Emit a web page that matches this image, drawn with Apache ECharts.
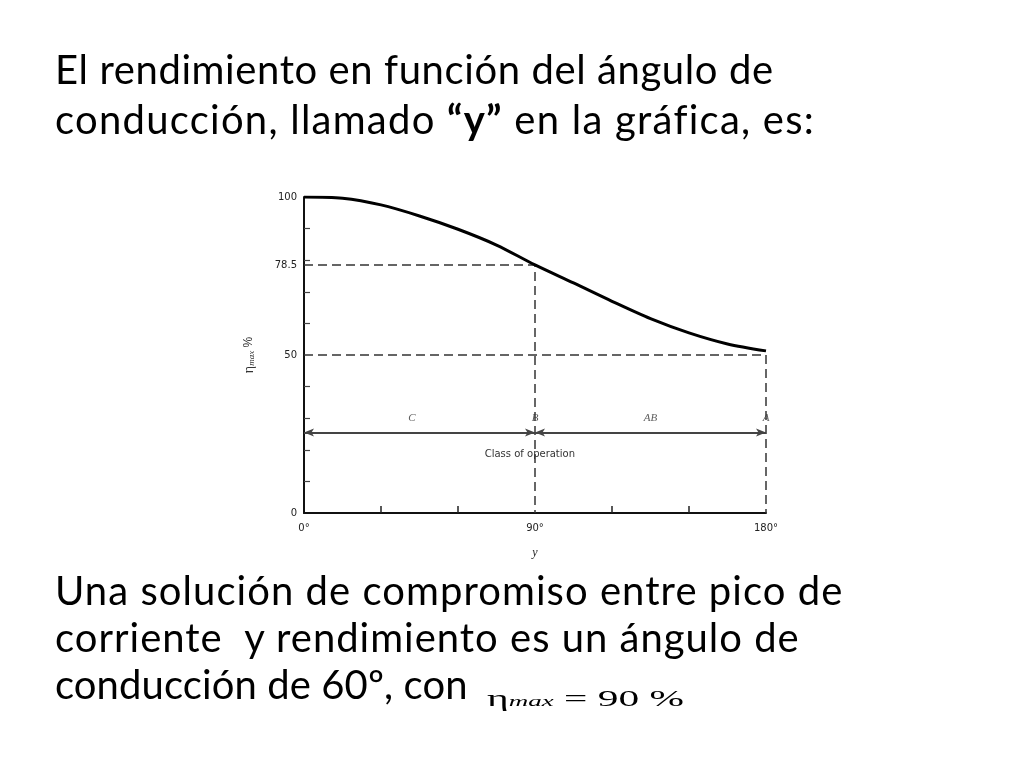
<!doctype html>
<html lang="es">

<head>
    <meta charset="UTF-8" />
    <title>Rendimiento vs ángulo de conducción</title>
    <style>
        html, body { margin: 0; padding: 0; background: #fff; }
        .page { position: relative; width: 1024px; height: 768px; overflow: hidden; }
        #chart { position: absolute; left: 0; top: 0; width: 1024px; height: 768px; }
        .txt {
            position: absolute; left: 55px; color: #000;
            font-family: Lato, "Open Sans", sans-serif; font-size: 40px; letter-spacing: 0.7px;
            white-space: pre; z-index: 2;
        }
        #top { top: 44px; line-height: 50px; }
        #bottom { top: 567px; line-height: 47px; }
        .l1 { letter-spacing: 0.6px; }
        .l2 { letter-spacing: 1.25px; }
        .l3 { letter-spacing: 1.05px; }
        .l4 { letter-spacing: 1px; }
        .l5 { letter-spacing: 0.1px; }
        #formula {
            position: absolute; left: 487px; top: 687px; z-index: 2;
            font-family: "Liberation Serif", "DejaVu Serif", serif; font-size: 23px; line-height: 23px;
            transform: scaleX(1.8); transform-origin: left top; white-space: pre;
        }
        #formula i { font-size: 15px; }
    </style>
</head>

<body>
    <div class="page">
        <div id="chart"></div>
        <div class="txt" id="top"><span class="l1">El rendimiento en función del ángulo de</span>
<span class="l2">conducción, llamado <b>“y”</b> en la gráfica, es:</span></div>
        <div class="txt" id="bottom"><span class="l3">Una solución de compromiso entre pico de</span>
<span class="l4">corriente  y rendimiento es un ángulo de</span>
<span class="l5">conducción de 60º, con</span></div>
        <div id="formula">η<i>max</i> = 90 %</div>
    </div>
    <script src="https://cdn.jsdelivr.net/npm/echarts@6/dist/echarts.min.js"></script>
    <script>
        // datos
        var angles = [0, 15, 30, 45, 60, 75, 90, 105, 120, 135, 150, 165, 180];
        var eta = [100, 99.6, 97.5, 94, 89.8, 84.8, 78.5, 72.8, 67, 61.5, 57, 53.5, 51.3];

        var yLabels = [0, 50, 78.5, 100];
        var yTicks = [10, 20, 30, 40, 60, 70, 80, 90];
        var xLabels = [0, 90, 180];
        var xTicks = [30, 60, 120, 150];

        // lineas de referencia (trazos)
        var guideB = [[0, 78.5], [90, 78.5], [90, 0]];
        var guideA = [[0, 50], [180, 50], [180, 0]];

        // clases de operacion
        var classNames = ['C', 'B', 'AB', 'A'];
        var classX = [42, 90, 135, 180];
        var classY = 30;
        var arrowY = 25.5;
        var arrowStops = [0, 90, 180];

        var chart = echarts.init(document.getElementById('chart'));

        var dashStyle = { color: '#333', width: 1.5, type: [9, 5] };

        var option = {
            animation: false,
            grid: { left: 304, right: 258, top: 197, bottom: 255 },
            xAxis: {
                type: 'value', min: 0, max: 180,
                name: 'y', nameLocation: 'middle', nameGap: 34,
                nameTextStyle: { fontFamily: 'Liberation Serif', fontStyle: 'italic', fontSize: 12, color: '#222' },
                axisLine: { lineStyle: { color: '#111', width: 2 } },
                axisTick: { show: true, inside: true, length: 7, customValues: xTicks, lineStyle: { color: '#222', width: 1.5 } },
                axisLabel: {
                    customValues: xLabels, margin: 10,
                    fontFamily: 'DejaVu Sans', fontSize: 10, color: '#222',
                    formatter: function (v) { return v + '°'; }
                },
                splitLine: { show: false }
            },
            yAxis: {
                type: 'value', min: 0, max: 100,
                name: '{a|η}{s|max} %', nameLocation: 'middle', nameGap: 48, nameRotate: 90,
                nameTextStyle: {
                    color: '#333',
                    rich: {
                        a: { fontFamily: 'Liberation Serif', fontSize: 14, color: '#333' },
                        s: { fontFamily: 'Liberation Serif', fontStyle: 'italic', fontSize: 9, color: '#333', verticalAlign: 'bottom' }
                    }
                },
                axisLine: { show: true, lineStyle: { color: '#111', width: 2 } },
                axisTick: { show: true, inside: true, length: 6, customValues: yTicks, lineStyle: { color: '#444', width: 1.2 } },
                axisLabel: {
                    customValues: yLabels, margin: 7,
                    fontFamily: 'DejaVu Sans', fontSize: 10, color: '#222'
                },
                splitLine: { show: false }
            },
            series: [
                {
                    type: 'line', data: guideB, symbol: 'none',
                    lineStyle: dashStyle, z: 1
                },
                {
                    type: 'line', data: guideA, symbol: 'none',
                    lineStyle: dashStyle, z: 1
                },
                {
                    type: 'line', smooth: 0.3, symbol: 'none',
                    data: angles.map(function (a, i) { return [a, eta[i]]; }),
                    lineStyle: { color: '#000', width: 3 }, z: 3
                },
                {
                    type: 'scatter', symbolSize: 0,
                    data: classNames.map(function (n, i) { return { name: n, value: [classX[i], classY] }; }),
                    label: {
                        show: true, position: 'inside',
                        formatter: '{b}',
                        fontFamily: 'Liberation Serif', fontStyle: 'italic', fontSize: 11, color: '#333'
                    },
                    markLine: {
                        silent: true,
                        symbol: ['arrow', 'arrow'], symbolSize: [6, 10],
                        label: { show: false },
                        lineStyle: { color: '#444', width: 1.8, type: 'solid' },
                        data: [
                            [{ coord: [arrowStops[0], arrowY] }, { coord: [arrowStops[1], arrowY] }],
                            [{ coord: [arrowStops[1], arrowY] }, { coord: [arrowStops[2], arrowY] }]
                        ]
                    },
                    markPoint: {
                        silent: true, symbolSize: 0,
                        label: { show: true, fontFamily: 'DejaVu Sans', fontSize: 10, color: '#333', formatter: '{b}' },
                        data: [{ name: 'Class of operation', coord: [88, 18.5] }]
                    }
                }
            ]
        };

        chart.setOption(option);
    </script>
</body>

</html>
